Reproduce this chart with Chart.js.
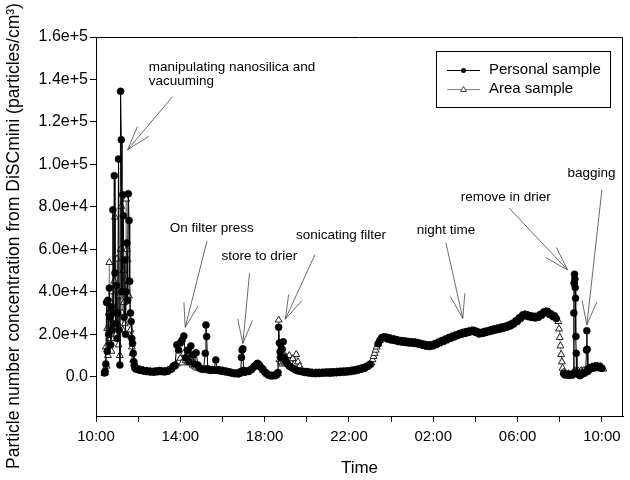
<!DOCTYPE html>
<html>
<head>
<meta charset="utf-8">
<script src="https://cdn.jsdelivr.net/npm/chart.js@4"></script>
<style>
  html, body { margin: 0; padding: 0; background: #fff; }
  canvas { display: block; }
</style>
</head>
<body>
<canvas id="chart" width="630" height="480"></canvas>
<script>
// sample time, minutes after 10:00 on the sampling day
const minutes = [
  24, 26, 28, 30, 32, 34, 36, 38, 40, 42, 44, 46, 48, 50, 52, 54, 56, 58, 60, 62, 64, 66, 68, 70,
  72, 74, 76, 78, 80, 82, 84, 86, 88, 90, 92, 94, 96, 98, 100, 102, 104, 106, 108, 110, 112, 114, 116,
  120, 125, 130, 135, 140, 145, 150, 155, 160, 165, 170, 175, 180, 185, 190, 195, 200, 205, 210, 215,
  220, 225, 230, 235, 240, 245, 250, 255, 260, 265, 270, 275, 280, 285, 290, 295,
  300, 306, 311, 313, 315, 318, 322, 326, 331, 336, 341, 346, 350, 355, 360, 365, 370, 375, 380, 385,
  390, 395, 400, 405, 408, 412, 414, 416, 418, 420,
  425, 430, 435, 440, 445, 450, 455, 460, 465, 470, 475, 480, 485, 490, 495, 500, 505, 510, 514,
  518, 520, 522, 524, 527, 530, 533, 536, 540, 545, 550, 555, 560, 565, 570, 575, 580, 585, 590,
  595, 600, 605, 610, 615, 620, 625, 630, 635, 640, 645, 650, 655, 660, 665, 670, 675, 680, 685,
  690, 695, 700, 705, 710, 715, 720, 725, 730, 735, 740, 745, 750, 755, 760, 765, 770, 775, 780,
  784, 787, 790, 793, 796, 799, 803, 808, 813, 818,
  825, 830, 835, 840, 845, 850, 855, 860, 865, 870, 875, 880, 885, 890, 895, 900,
  905, 910, 915, 920, 925, 930, 935, 940, 945, 950, 955, 960, 965, 970, 975, 980,
  985, 990, 995, 1000, 1005, 1010, 1015, 1020, 1025, 1030, 1035, 1040, 1045, 1050, 1055, 1060,
  1065, 1070, 1075, 1080, 1085, 1090, 1095, 1100, 1105, 1110, 1115, 1120, 1125, 1130, 1135, 1140,
  1145, 1150, 1155, 1160, 1165, 1170, 1175, 1180, 1185, 1190, 1195, 1200, 1205, 1210, 1215, 1220,
  1225, 1230, 1235, 1240, 1245, 1250, 1255, 1260, 1265, 1270, 1275, 1280, 1285, 1290, 1295, 1300,
  1305, 1310,
  1316, 1318, 1320, 1322, 1324, 1326, 1328,
  1331, 1335, 1340, 1345, 1350, 1355, 1358,
  1360, 1361, 1362, 1363, 1364, 1365, 1366, 1367,
  1369, 1373, 1377, 1381, 1385, 1389, 1394,
  1396, 1397, 1398,
  1400, 1404, 1408, 1412, 1416, 1420, 1424, 1428, 1432, 1436, 1440, 1444
];

const personal = [
  1800, 2600, 6000, 35000, 12000, 36000, 20000, 41800, 28000, 15000, 33000, 22000, 78600, 30000, 94700, 48800,
  25000, 43000, 18000, 30000, 102500, 22000, 5500, 134400, 111600, 40000, 85700, 75800, 28000, 55000, 20000, 40000,
  63000, 36000, 86200, 73600, 45000, 30000, 26000, 18000, 15700, 11000, 7000, 5000, 4200, 3800, 3500,
  3600, 3100, 3300, 2700, 2900, 2400, 2700, 2200, 2500, 2100, 2700, 2300, 2900, 2400, 2700, 2200, 2800, 2600, 3400, 3900,
  5000, 5500, 15000, 12600, 15900, 17300, 19200, 8800, 12500, 7000, 14500, 10200, 6000, 11300, 5500, 4200,
  3600, 3500, 11000, 24400, 18900, 3800, 3300, 3000, 3400, 3100, 7900, 3000, 3300, 2700, 3000, 2400, 2700, 2100, 2300, 1700,
  1900, 1400, 1700, 1300, 1600, 2500, 9100, 12600, 13200, 3000,
  2200, 2700, 2500, 3300, 3900, 4900, 5500, 6300, 5600, 4300, 3600, 2300, 1700, 900, 600, 300, 700, 500, 1000,
  2000, 23300, 15900, 11800, 9000, 12900, 16500, 9000, 7000, 6000, 5000, 4500, 4000, 3500, 3000, 2800, 2600, 2400, 2300,
  2000, 2400, 1700, 2100, 1500, 1900, 1400, 2000, 1500, 2000, 1600, 2100, 1700, 2200, 1600, 2300, 1800, 2300, 1900,
  2500, 2000, 2600, 2100, 2700, 2200, 2800, 2400, 3100, 2700, 3400, 3000, 3800, 3500, 4300, 4000, 4900, 5300, 5900,
  null, null, null, null, null, null, 15500, 17200, 18400, 18700,
  18700, 17800, 18300, 17300, 17900, 17000, 17500, 16600, 17100, 16300, 16900, 16100, 16700, 15900, 16500, 15800,
  16400, 15600, 16100, 15200, 15700, 14800, 15300, 14400, 15000, 14200, 15000, 14600, 15600, 15300, 16400, 16100,
  17100, 16800, 17800, 17500, 18500, 18200, 19200, 18800, 19800, 19500, 20400, 20000, 20900, 20400, 21300, 20800,
  21700, 21300, 21900, 21000, 21300, 20100, 20800, 20400, 21300, 20800, 21700, 21300, 22200, 21700, 22600, 22100,
  23000, 22500, 23400, 22900, 23800, 23400, 24400, 24000, 25200, 25100, 26400, 26300, 27800, 27800, 29200, 29000,
  29300, 28300, 28800, 27900, 28500, 27700, 28500, 28100, 29400, 29300, 30600, 30400, 30800, 29600, 29700, 28500,
  28700, 27400,
  null, null, null, null, null, null, null,
  1500, 800, 1300, 600, 1200, 700, 1200,
  30000, 44000, 48300, 46000, 42000, 37000, 19000, 11000,
  2000, 1200, 500, 1000, 1900, 1500, 2200,
  12600, 21700, 12900,
  2500, 3500, 4400, 3900, 4800, 4200, 5000, 4300, 4900, 4100, 4000, null
];

const area = [
  1500, 2000, 14000, 5000, 22800, 10000, 30000, 53800, 18000, 35000, 12000, 40000, 25000, 18000, 45000, 75200,
  30000, 20000, 55500, 25000, 15000, 38000, 10000, 60000, 80200, 30000, 22000, 50000, 35000, 25000, 45000, 83700,
  60000, 55000, 45000, 38000, 30000, 22000, 19000, 14000, 11000, 8000, 6000, 4500, 4000, 3600, 3300,
  3200, 3400, 2600, 3000, 2300, 2700, 2000, 2500, 1900, 2400, 2000, 2600, 2200, 2700, 2100, 2500, 2300, 2900, 3100, 3600,
  4500, 5000, 6000, 7000, 8700, 6500, 11000, 7500, 11000, 6500, 9000, 5500, 5000, 4500, 4000, 3800,
  3300, 3200, 3400, 3500, 3300, 3100, 2700, 3200, 2800, 2600, 3100, 2500, 2900, 2400, 2600, 2000, 2300, 1800, 2100, 1500,
  1700, 1200, 1500, 1100, 1500, 1500, 1600, 1700, 1800, 1900,
  2000, 2300, 2900, 3000, 4300, 4500, 5900, 5800, 5000, 4600, 3000, 2600, 1300, 1100, 300, 600, 300, 800, 900,
  1500, 26700, 8000, 10000, 7000, 6000, 8000, 6500, 9500, 7000, 10000, 6500, 8500, 6000, 10500, 7000, 5000, 3000, 2200,
  2300, 1800, 2200, 1600, 2000, 1500, 1900, 1400, 1900, 1500, 2000, 1600, 2100, 1500, 2100, 1700, 2200, 1700, 2300,
  1800, 2400, 1900, 2500, 2000, 2600, 2200, 2800, 2400, 3100, 2800, 3500, 3200, 3900, 3700, 4500, 4400, 5100, 5600,
  6500, 8000, 9500, 11000, 12500, 14000, 15500, 17000, 18200, 18500,
  17800, 18300, 17400, 17800, 17000, 17500, 16600, 17100, 16200, 16800, 16000, 16600, 15800, 16400, 15600, 16300,
  15500, 16100, 15200, 15700, 14800, 15300, 14400, 14900, 14100, 14700, 14100, 15100, 14700, 15800, 15500, 16600,
  16200, 17300, 16900, 18000, 17600, 18700, 18300, 19300, 18900, 20000, 19500, 20500, 20000, 20900, 20400, 21300,
  20800, 21800, 21000, 21500, 20400, 20600, 19900, 20900, 20400, 21300, 20800, 21800, 21300, 22200, 21700, 22600,
  22100, 23000, 22500, 23400, 22900, 23900, 23500, 24500, 24300, 25600, 25500, 26800, 26900, 28300, 28300, 29500,
  28400, 28800, 27900, 28400, 27600, 28200, 27600, 28600, 28500, 29800, 29700, 30900, 29900, 30100, 28800, 29000,
  27800, 27900,
  26000, 22500, 18500, 14500, 10500, 7000, 4000,
  2200, 1500, 900, 1400, 800, 1300, 1300,
  1500, 45000, 3000, 2500, 2000, 2000, 2200, 2200,
  2300, 2600, 2200, 2900, 2500, 3000, 3200,
  3300, 3400, 3500,
  3600, 4200, 3800, 4700, 4300, 5100, 4500, 5000, 4400, 4800, 4500, 3600
];

const xTickMinutes = [0, 120, 240, 360, 480, 600, 720, 840, 960, 1080, 1200, 1320, 1440];
const xTickLabels = ['10:00', '', '14:00', '', '18:00', '', '22:00', '', '02:00', '', '06:00', '', '10:00'];
const yTickValues = [0, 20000, 40000, 60000, 80000, 100000, 120000, 140000, 160000];
const yTickLabels = ['0.0', '2.0e+4', '4.0e+4', '6.0e+4', '8.0e+4', '1.0e+5', '1.2e+5', '1.4e+5', '1.6e+5'];

// event notes: text anchor, arrow tail and arrow tip in data units (minutes, particles/cm3)
const notes = [
  { lines: ['manipulating nanosilica and', 'vacuuming'], at: [150, 145600], tail: [218, 131900], tip: [90, 106900] },
  { lines: ['On filter press'], at: [210, 70100], tail: [316, 64000], tip: [254, 23300] },
  { lines: ['store to drier'], at: [357, 56900], tail: [437, 48800], tip: [418, 15700] },
  { lines: ['sonicating filter'], at: [569, 66500], tail: [623, 57400], tip: [539, 27100] },
  { lines: ['night time'], at: [913, 68900], tail: [996, 63100], tip: [1044, 27500] },
  { lines: ['remove in drier'], at: [1038, 84600], tail: [1176, 79400], tip: [1342, 50300] },
  { lines: ['bagging'], at: [1342, 95600], tail: [1440, 88100], tip: [1397, 24400] }
];

const FONT = "'Liberation Sans', Arial, sans-serif";

function series(values) {
  return minutes.map((m, i) => ({ x: m, y: values[i] }));
}

function drawArrow(ctx, x1, y1, x2, y2) {
  const ang = Math.atan2(y1 - y2, x1 - x2);
  ctx.beginPath();
  ctx.moveTo(x1, y1);
  ctx.lineTo(x2, y2);
  [-0.3, 0.3].forEach((d) => {
    ctx.moveTo(x2, y2);
    ctx.lineTo(x2 + 25 * Math.cos(ang + d), y2 + 25 * Math.sin(ang + d));
  });
  ctx.stroke();
}

// frame, y title, legend box and the event notes
const decorations = {
  id: 'decorations',
  afterDraw(chart) {
    const { ctx, chartArea: a, scales: { x, y } } = chart;
    ctx.save();

    // closing top/right edges of the frame
    ctx.strokeStyle = '#000';
    ctx.lineWidth = 1;
    ctx.beginPath();
    ctx.moveTo(Math.round(a.left), Math.round(a.top) + 0.5);
    ctx.lineTo(Math.round(a.right) - 0.5, Math.round(a.top) + 0.5);
    ctx.lineTo(Math.round(a.right) - 0.5, Math.round(a.bottom));
    ctx.stroke();

    // y title
    ctx.save();
    ctx.translate(14, 236);
    ctx.rotate(-Math.PI / 2);
    ctx.fillStyle = '#000';
    ctx.font = '17.5px ' + FONT;
    ctx.textAlign = 'center';
    ctx.textBaseline = 'middle';
    ctx.fillText('Particle number concentration from DiSCmini (particles/cm\u00B3)', 0, 0);
    ctx.restore();

    // legend
    const lx = Math.round(a.right) - 187, ly = Math.round(a.top) + 14;
    ctx.strokeStyle = '#000';
    ctx.strokeRect(lx + 0.5, ly + 0.5, 174, 56);
    ctx.font = '15px ' + FONT;
    ctx.textAlign = 'left';
    ctx.textBaseline = 'middle';
    ctx.fillStyle = '#000';
    const r1 = ly + 19, r2 = ly + 38;
    ctx.beginPath();
    ctx.moveTo(lx + 11, r1 + 0.5); ctx.lineTo(lx + 44, r1 + 0.5);
    ctx.stroke();
    ctx.beginPath();
    ctx.arc(lx + 27.5, r1 + 0.5, 2.5, 0, Math.PI * 2);
    ctx.fill();
    ctx.fillText('Personal sample', lx + 53, r1);
    ctx.strokeStyle = '#808080';
    ctx.beginPath();
    ctx.moveTo(lx + 11, r2 + 0.5); ctx.lineTo(lx + 44, r2 + 0.5);
    ctx.stroke();
    ctx.fillStyle = '#fff';
    ctx.strokeStyle = '#444';
    ctx.beginPath();
    ctx.moveTo(lx + 27.5, r2 - 2.5); ctx.lineTo(lx + 30.5, r2 + 2.5); ctx.lineTo(lx + 24.5, r2 + 2.5);
    ctx.closePath();
    ctx.fill(); ctx.stroke();
    ctx.fillStyle = '#000';
    ctx.fillText('Area sample', lx + 53, r2);

    // event notes
    ctx.font = '13.5px ' + FONT;
    ctx.strokeStyle = '#444';
    ctx.lineWidth = 0.8;
    notes.forEach((n) => {
      const tx = x.getPixelForValue(n.at[0]), ty = y.getPixelForValue(n.at[1]);
      n.lines.forEach((line, i) => ctx.fillText(line, tx, ty + i * 14));
      drawArrow(ctx,
        x.getPixelForValue(n.tail[0]), y.getPixelForValue(n.tail[1]),
        x.getPixelForValue(n.tip[0]), y.getPixelForValue(n.tip[1]));
    });
    ctx.restore();
  }
};

new Chart(document.getElementById('chart'), {
  type: 'line',
  data: {
    datasets: [
      {
        label: 'Personal sample',
        data: series(personal),
        borderColor: '#000',
        borderWidth: 1,
        pointRadius: 3.5,
        pointBackgroundColor: '#000',
        pointBorderColor: '#000',
        pointBorderWidth: 0.5,
        tension: 0,
        spanGaps: false
      },
      {
        label: 'Area sample',
        data: series(area),
        borderColor: '#8c8c8c',
        borderWidth: 1,
        pointStyle: 'triangle',
        pointRadius: 4,
        pointBackgroundColor: '#fff',
        pointBorderColor: '#222',
        pointBorderWidth: 1,
        tension: 0,
        spanGaps: true
      }
    ]
  },
  options: {
    responsive: false,
    animation: false,
    devicePixelRatio: 1,
    layout: { padding: { left: 0, top: 37, right: 7, bottom: 0 } },
    plugins: {
      legend: { display: false },
      tooltip: { enabled: false }
    },
    scales: {
      x: {
        type: 'linear',
        min: 0,
        max: 1500,
        afterBuildTicks: (scale) => { scale.ticks = xTickMinutes.map((v) => ({ value: v })); },
        afterFit: (scale) => { scale.height = 64; },
        ticks: {
          autoSkip: false,
          maxRotation: 0,
          padding: 6,
          color: '#000',
          font: { family: FONT, size: 15 },
          callback: (v, i) => xTickLabels[i]
        },
        grid: { drawOnChartArea: false, drawTicks: true, tickLength: 6, color: '#000' },
        border: { display: true, color: '#000', width: 1 },
        title: { display: true, text: 'Time', color: '#000', font: { family: FONT, size: 17 }, padding: { top: 0, bottom: 1 } }
      },
      y: {
        type: 'linear',
        min: -18500,
        max: 160000,
        afterBuildTicks: (scale) => { scale.ticks = yTickValues.map((v) => ({ value: v })); },
        afterFit: (scale) => { scale.width = 96; },
        ticks: {
          autoSkip: false,
          padding: 2,
          color: '#000',
          font: { family: FONT, size: 16 },
          callback: (v, i) => yTickLabels[i]
        },
        grid: { drawOnChartArea: false, drawTicks: true, tickLength: 6, color: '#000' },
        border: { display: true, color: '#000', width: 1 }
      }
    }
  },
  plugins: [decorations]
});
</script>
</body>
</html>
